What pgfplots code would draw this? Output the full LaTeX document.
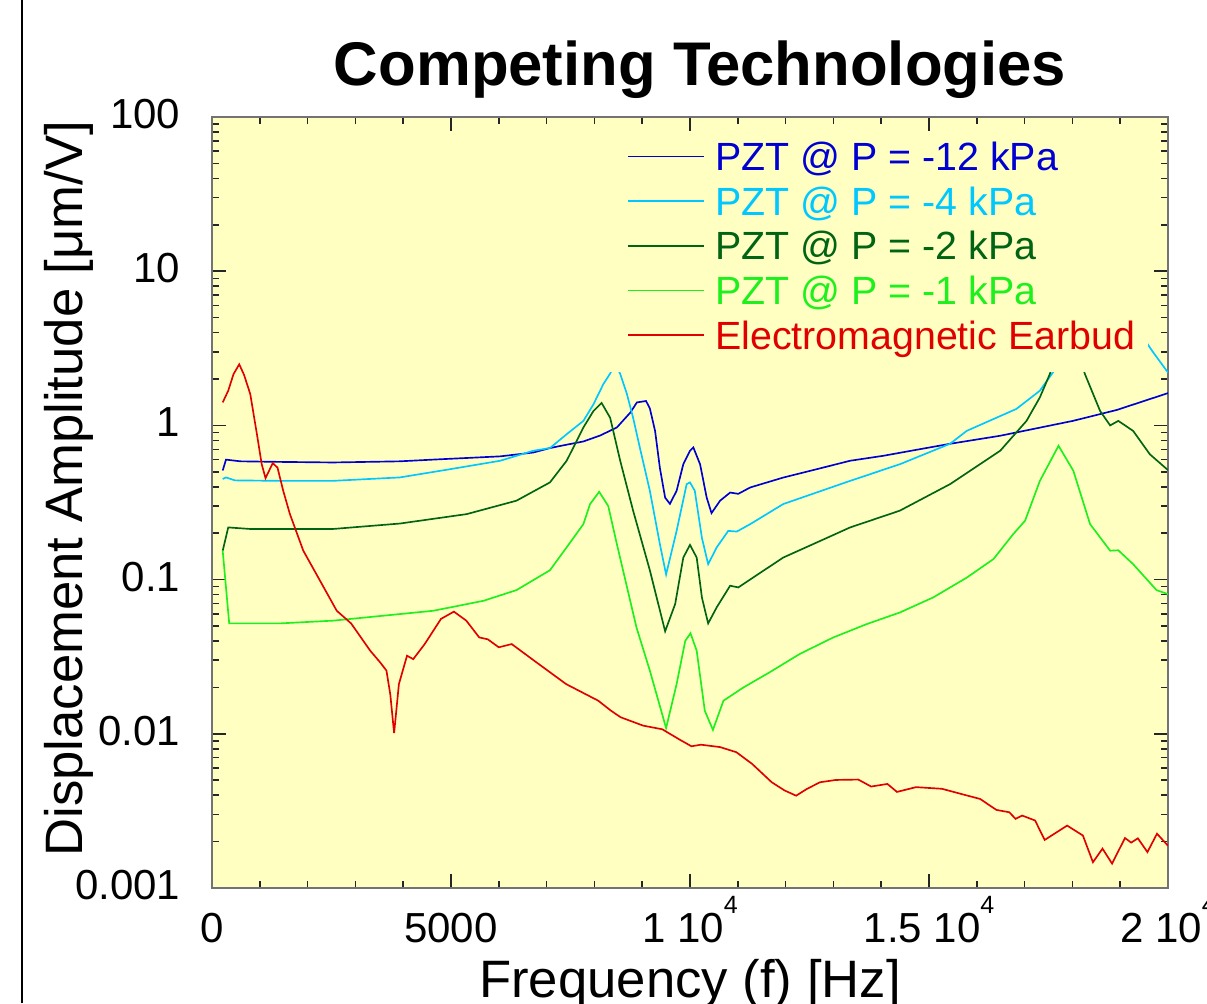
\documentclass[border=0pt]{standalone}
\usepackage{fontspec}
\setmainfont{Liberation Sans}
\usepackage{pgfplots}
\pgfplotsset{compat=1.18}

\definecolor{bgyellow}{RGB}{255,255,194}
\definecolor{pztA}{RGB}{0,0,210}
\definecolor{pztB}{RGB}{0,200,255}
\definecolor{pztC}{RGB}{0,100,20}
\definecolor{pztD}{RGB}{30,240,30}
\definecolor{emred}{RGB}{225,0,0}

% superscript exponent in the x tick labels
\newcommand{\sq}[1]{\raisebox{8.7pt}{\fontsize{7.5}{8}\selectfont #1}}

\begin{document}
\begin{tikzpicture}
\begin{axis}[
  at={(0,0)}, anchor=south west,
  scale only axis, width=286.8pt, height=231.3pt,
  xmin=0, xmax=20000, ymin=0.001, ymax=100, ymode=log,
  axis background/.style={fill=bgyellow},
  axis line style={draw=black!55, line width=0.8pt},
  tick style={draw=black!85, line width=0.45pt},
  major tick length=4.2pt, minor tick length=2.1pt,
  tick align=inside, tick pos=both,
  xtick={0,5000,10000,15000,20000},
  xticklabels={0,5000,1 10\sq{4},1.5 10\sq{4},2 10\sq{4}},
  minor x tick num=4, scaled x ticks=false,
  ytick={0.001,0.01,0.1,1,10,100},
  yticklabels={0.001,0.01,0.1,1,10,100},
  tick label style={font=\fontsize{12.6}{14}\selectfont},
  xticklabel style={anchor=base, inner sep=0pt, yshift=-16.2pt},
  yticklabel style={anchor=east, inner sep=0pt, xshift=-9.3pt, yshift=0.9pt},
  legend cell align=left,
  legend image code/.code={\draw[#1] (0pt,0pt) -- (22.8pt,0pt);},
  legend style={draw=none, fill=none, inner sep=0pt,
    at={(0.4341,0.6887)}, anchor=south west,
    font=\fontsize{11.8}{13.4}\selectfont,
    row sep=0.7pt, column sep=3pt,
    nodes={inner sep=0pt, text height=10.5pt, text depth=2.2pt}},
]
\addplot[pztA, line width=0.5pt] table {
224 0.51
293 0.60
590 0.585
1420 0.58
2530 0.575
3930 0.585
4620 0.60
6030 0.63
6720 0.667
7070 0.713
7420 0.75
7770 0.787
8120 0.86
8470 0.97
8750 1.21
8890 1.41
9080 1.44
9160 1.29
9270 0.92
9370 0.53
9480 0.34
9580 0.31
9720 0.377
9860 0.56
10000 0.685
10070 0.72
10210 0.561
10350 0.34
10450 0.27
10630 0.325
10840 0.367
11010 0.36
11260 0.396
11950 0.459
12650 0.52
13350 0.59
14040 0.635
14740 0.695
15440 0.76
16490 0.857
18010 1.07
18930 1.26
20000 1.62
};
\addlegendentry{\textcolor{pztA}{PZT @ P = -12 kPa}}
\addplot[pztB, line width=0.5pt] table {
224 0.449
293 0.46
480 0.44
1420 0.437
2530 0.437
3930 0.46
4980 0.52
6030 0.59
6720 0.685
7070 0.713
7420 0.877
7770 1.07
7980 1.37
8190 1.86
8330 2.17
8430 2.5
8540 2.16
8680 1.6
8810 1.12
8950 0.72
9160 0.377
9370 0.17
9500 0.108
9720 0.207
9930 0.416
10000 0.427
10100 0.377
10250 0.186
10380 0.126
10560 0.162
10800 0.207
10980 0.205
11260 0.229
11950 0.309
13350 0.437
14390 0.56
15440 0.76
15790 0.922
16830 1.28
17320 1.68
17590 2.2
17950 3.6
18580 6
19200 5
19670 3.04
20000 2.2
};
\addlegendentry{\textcolor{pztB}{PZT @ P = -4 kPa}}
\addplot[pztC, line width=0.5pt] table {
224 0.154
340 0.218
800 0.213
2530 0.213
3930 0.231
5330 0.266
6370 0.325
7070 0.427
7420 0.59
7770 0.97
7980 1.24
8150 1.40
8330 1.12
8540 0.59
8810 0.28
9160 0.115
9480 0.0462
9690 0.0695
9860 0.139
10000 0.168
10140 0.139
10250 0.0764
10380 0.052
10560 0.0662
10840 0.0913
11010 0.089
11950 0.139
12650 0.174
13350 0.218
14390 0.28
15440 0.416
16490 0.685
17040 1.07
17320 1.52
17530 2.16
17890 5
18260 2.16
18580 1.24
18790 1.0
18960 1.07
19270 0.922
19620 0.65
20000 0.513
};
\addlegendentry{\textcolor{pztC}{PZT @ P = -2 kPa}}
\addplot[pztD, line width=0.5pt] table {
224 0.154
360 0.052
1420 0.052
2540 0.0542
4630 0.0628
5680 0.0729
6370 0.0855
7070 0.115
7420 0.162
7770 0.229
7910 0.309
8100 0.371
8290 0.30
8470 0.17
8880 0.049
9160 0.0257
9500 0.0109
9720 0.021
9900 0.040
10010 0.0449
10140 0.0346
10310 0.0141
10480 0.0106
10700 0.0164
11120 0.0200
11670 0.0251
12300 0.033
13000 0.0422
13700 0.0515
14390 0.0612
15090 0.0767
15790 0.103
16350 0.136
16760 0.197
17010 0.241
17320 0.437
17710 0.738
18020 0.508
18370 0.229
18790 0.154
18960 0.155
19270 0.126
19760 0.0855
20000 0.0805
};
\addlegendentry{\textcolor{pztD}{PZT @ P = -1 kPa}}
\addplot[emred, line width=0.5pt] table {
224 1.41
340 1.68
450 2.15
570 2.49
670 2.13
800 1.60
940 0.877
1040 0.561
1120 0.455
1270 0.569
1370 0.533
1490 0.377
1630 0.266
1910 0.154
2260 0.0984
2610 0.0628
2910 0.052
3310 0.0346
3520 0.029
3650 0.0257
3730 0.018
3810 0.0101
3910 0.021
4080 0.0321
4210 0.0305
4450 0.0382
4790 0.0556
5060 0.062
5320 0.0542
5590 0.0422
5770 0.041
6000 0.0364
6270 0.0382
6740 0.0298
7410 0.021
8080 0.0164
8350 0.0141
8550 0.0128
9020 0.0113
9420 0.0107
9760 0.00926
10030 0.0083
10230 0.0085
10630 0.0082
10970 0.0076
11300 0.00638
11710 0.00485
11980 0.00429
12220 0.00397
12450 0.0044
12720 0.00485
13050 0.00502
13520 0.00505
13790 0.00455
14130 0.00473
14330 0.0042
14730 0.00451
15270 0.0044
15810 0.00397
16070 0.00378
16410 0.00321
16680 0.0031
16810 0.00281
16950 0.00295
17220 0.00274
17420 0.00205
17890 0.00254
18220 0.00219
18430 0.00147
18630 0.0018
18830 0.00144
19100 0.00211
19230 0.00197
19370 0.0021
19570 0.00171
19770 0.00225
20000 0.00188
};
\addlegendentry{\textcolor{emred}{Electromagnetic Earbud}}
% the legend box is filled with the background colour and hides the curves
\fill[bgyellow] (axis description cs:0.4059,0.6693) rectangle (axis description cs:0.9791,0.97);
\end{axis}
\node[anchor=base, font=\fontsize{18.5}{20}\selectfont\bfseries] at (146.4pt,240.9pt) {Competing Technologies};
\node[anchor=base, font=\fontsize{15.8}{18}\selectfont] at (143.4pt,-32.7pt) {Frequency (f) [Hz]};
\node[anchor=base, rotate=90, font=\fontsize{15.8}{18}\selectfont] at (-38.7pt,119.85pt) {Displacement Amplitude [μm/V]};
\draw[line width=0.8pt] (-57pt,-34.5pt) -- (-57pt,266.4pt);
\pgfresetboundingbox
\useasboundingbox (-63.6pt,-34.5pt) rectangle (298.5pt,266.4pt);
\end{tikzpicture}
\end{document}
